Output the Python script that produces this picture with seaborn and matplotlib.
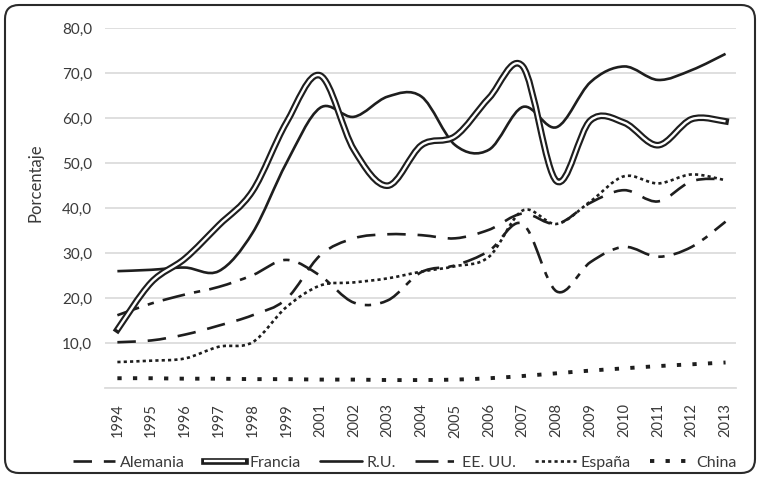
import numpy as np
import pandas as pd
import matplotlib.pyplot as plt
import seaborn as sns
from matplotlib.path import Path
from matplotlib.patches import PathPatch, FancyBboxPatch
from matplotlib.lines import Line2D
from matplotlib.legend_handler import HandlerTuple
from matplotlib.transforms import IdentityTransform

# data (percent)
years = ["1994", "1995", "1996", "1997", "1998", "1999", "2001", "2002", "2003", "2004",
         "2005", "2006", "2007", "2008", "2009", "2010", "2011", "2012", "2013"]
alemania = [10.2, 10.6, 11.9, 13.9, 16.2, 19.8, 29.5, 33.3, 34.2, 34.0,
            33.3, 35.2, 38.8, 36.5, 41.2, 44.0, 41.5, 46.0, 46.5]
francia = [13.0, 23.5, 28.8, 36.2, 43.8, 59.0, 69.5, 53.0, 45.0, 54.0,
           56.0, 64.5, 71.5, 46.0, 59.5, 59.0, 54.0, 59.8, 59.3]
ru = [26.0, 26.3, 26.8, 26.0, 34.5, 50.0, 62.3, 60.3, 64.8, 64.8,
      54.0, 53.0, 62.5, 58.0, 68.0, 71.5, 68.5, 70.7, 74.3]
eeuu = [16.2, 18.8, 20.8, 22.5, 25.1, 28.5, 25.0, 19.0, 19.5, 25.8,
        27.3, 30.5, 36.5, 21.5, 28.0, 31.4, 29.2, 31.4, 37.0]
espana = [5.8, 6.1, 6.6, 9.2, 10.2, 18.0, 22.8, 23.5, 24.4, 25.9,
          27.1, 29.2, 39.5, 36.5, 41.5, 47.1, 45.5, 47.5, 46.2]
china = [2.2, 2.2, 2.1, 2.1, 2.0, 2.0, 1.9, 1.9, 1.8, 1.8,
         1.9, 2.2, 2.7, 3.3, 3.9, 4.4, 4.9, 5.3, 5.7]

series = {
    "Alemania": alemania,
    "Francia": francia,
    "R.U.": ru,
    "EE. UU.": eeuu,
    "España": espana,
    "China": china,
}

INK = "#1e1e1e"
GRID = "#dcdcdc"
TEXT = "#3a3a3a"

styles = {
    "Alemania": dict(lw=1.9, ls=(0, (7, 4.5))),
    "Francia": dict(lw=4.8, ls="solid"),
    "R.U.": dict(lw=1.9, ls="solid"),
    "EE. UU.": dict(lw=1.9, ls=(0, (8.7, 3.5, 2.4, 3.5))),
    "España": dict(lw=1.9, ls=(0, (1.2, 1.2))),
    "China": dict(lw=2.8, ls=(0, (1.1, 2.9))),
}


def smooth_path(xs, ys):
    # cubic bezier through the points, like a "smoothed line" in a spreadsheet
    pts = np.column_stack([xs, ys]).astype(float)
    n = len(pts)
    verts = [pts[0]]
    codes = [Path.MOVETO]
    for i in range(n - 1):
        p0 = pts[max(i - 1, 0)]
        p1, p2 = pts[i], pts[i + 1]
        p3 = pts[min(i + 2, n - 1)]
        verts += [p1 + (p2 - p0) / 6, p2 - (p3 - p1) / 6, p2]
        codes += [Path.CURVE4] * 3
    return Path(verts, codes)


sns.set_theme(style="white")
plt.rcParams['font.family'] = ['Lato', 'DejaVu Sans']

fig = plt.figure(figsize=(7.6, 4.78), dpi=100)
ax = fig.add_axes([0.138, 0.188, 0.830, 0.753])

df = pd.DataFrame(series)
df["pos"] = np.arange(len(years))

for name in series:
    st = styles[name]
    path = smooth_path(df["pos"], df[name])
    if name == "Francia":
        ax.add_patch(PathPatch(path, fill=False, edgecolor=INK, lw=st["lw"],
                               capstyle="projecting", joinstyle="round", zorder=3))
        ax.add_patch(PathPatch(path, fill=False, edgecolor="white", lw=1.7,
                               capstyle="butt", joinstyle="round", zorder=3.1))
    else:
        ax.add_patch(PathPatch(path, fill=False, edgecolor=INK, lw=st["lw"],
                               linestyle=st["ls"], capstyle="butt",
                               joinstyle="round", zorder=3))

ax.set_xlim(-0.37, 18.3)
ax.set_ylim(0, 80)
ax.set_xticks(range(len(years)))
ax.set_xticklabels(years, rotation=90, fontsize=10.5, color=TEXT)
yt = list(range(0, 81, 10))
ax.set_yticks(yt)
ax.set_yticklabels([""] + [f"{v:.1f}".replace(".", ",") for v in yt[1:]],
                   fontsize=11, color=TEXT)
ax.tick_params(axis="both", length=0)
ax.tick_params(axis="x", pad=11)
ax.tick_params(axis="y", pad=9)
ax.yaxis.grid(True, color=GRID, lw=1.3)
ax.xaxis.grid(False)
for s in ["top", "right", "left"]:
    ax.spines[s].set_visible(False)
ax.spines["bottom"].set_color(GRID)
ax.spines["bottom"].set_linewidth(1.3)
ax.set_ylabel("Porcentaje", fontsize=12, color=TEXT)
ax.yaxis.set_label_coords(-0.098, 0.572)

# legend
handles = []
for name in series:
    st = styles[name]
    if name == "Francia":
        h = (Line2D([], [], color=INK, lw=st["lw"], solid_capstyle="projecting"),
             Line2D([], [], color="white", lw=1.7, solid_capstyle="butt"))
    else:
        h = Line2D([], [], color=INK, lw=st["lw"], ls=st["ls"], dash_capstyle="butt")
    handles.append(h)
fig.legend(handles, list(series), loc="center", bbox_to_anchor=(0.533, 0.032),
           ncol=6, frameon=False, fontsize=11.5, handlelength=2.6,
           handletextpad=0.3, columnspacing=1.2, labelcolor=TEXT,
           handler_map={tuple: HandlerTuple(ndivide=1)})

# rounded frame around the whole chart
frame = FancyBboxPatch((5, 5), 750, 468, boxstyle="round,pad=0,rounding_size=14",
                       transform=IdentityTransform(), fill=False,
                       edgecolor="#2a2a2a", lw=1.5)
fig.patches.append(frame)

fig.savefig("out.png", dpi=100)
